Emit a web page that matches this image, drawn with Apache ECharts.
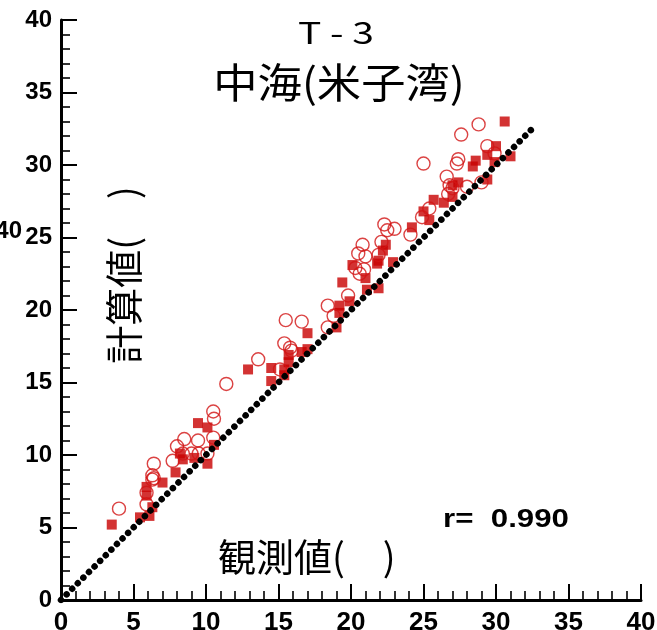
<!DOCTYPE html>
<html>
<head>
<meta charset="utf-8">
<script src="https://cdn.jsdelivr.net/npm/echarts@6/dist/echarts.min.js"></script>
<style>
html,body{margin:0;padding:0;background:#fff;}
#chart{width:657px;height:630px;}
</style>
</head>
<body>
<div id="chart"></div>
<script>
// Data
var squarePoints = [
  [3.5,5.2],[5.45,5.7],[6.1,5.8],[6.3,6.4],[5.9,7.2],[5.9,7.8],[7.0,8.1],[7.9,8.8],
  [8.2,10.1],[8.4,9.7],[9.2,9.8],[10.1,9.4],[10.55,10.7],[9.45,12.2],[10.1,11.9],
  [12.9,15.9],[14.5,16.0],[14.5,15.1],[15.4,15.9],[15.4,15.5],[15.7,16.9],[15.7,16.4],
  [16.6,17.1],[17.0,17.3],[17.0,18.4],[19.0,18.8],[19.2,20.3],[19.2,19.8],[19.9,20.6],
  [19.4,21.9],[21.1,21.4],[21.9,21.5],[21.0,22.2],[20.1,23.1],[21.8,23.2],[21.9,23.4],
  [22.9,23.3],[22.2,24.1],[22.4,24.5],[24.2,25.7],[25.0,26.8],[25.4,26.2],[25.7,27.6],
  [26.4,27.4],[27.0,27.8],[27.0,28.6],[27.4,28.8],[28.4,29.9],[28.6,30.3],[29.4,29.0],
  [29.9,30.2],[29.4,30.7],[31.0,30.6],[30.0,31.3],[30.6,33.0]
];
var circlePoints = [
  [4.0,6.3],[5.9,6.6],[5.9,7.4],[6.3,8.3],[6.3,8.6],[6.4,8.4],[6.4,9.4],[7.7,9.6],
  [8.0,10.6],[8.4,10.1],[8.5,11.1],[9.0,10.1],[9.5,10.1],[10.1,10.1],[9.45,11.0],
  [10.5,11.2],[10.5,13.0],[10.55,12.5],[11.4,14.9],[13.6,16.6],[15.1,15.9],[15.4,17.7],
  [15.8,17.4],[15.9,17.2],[15.5,19.3],[16.6,19.2],[18.4,18.8],[18.8,19.6],[18.4,20.3],
  [19.8,21.0],[20.3,22.9],[20.6,22.5],[20.9,22.8],[20.5,23.9],[21.0,23.7],[21.9,23.8],
  [20.8,24.5],[22.1,24.7],[22.3,25.9],[22.5,25.5],[23.0,25.6],[24.1,25.2],[24.9,26.4],
  [25.4,27.0],[26.7,28.0],[26.8,28.6],[27.0,28.4],[28.0,28.5],[26.6,29.2],[27.4,30.4],
  [27.3,30.1],[25.0,30.1],[29.0,28.8],[29.9,30.8],[29.4,31.3],[27.6,32.1],[28.8,32.8]
];
var oneToOneLine = [[0,0],[32.7,32.7]];
var axisMin = 0, axisMax = 40, axisStep = 5;
var titleLine1 = 'T - 3';
var titleLine2 = '中海(米子湾)';
var yTitle = '計算値(\u3000)';
var xTitle = '観測値(\u3000)';
var rText = 'r=  0.990';

var chart = echarts.init(document.getElementById('chart'), null, {renderer:'canvas'});
var numFont = '"Liberation Sans", Arial, sans-serif';
var cjkFont = '"Noto Sans CJK JP", sans-serif';
function axisCommon(margin, size){
  return {
    type:'value', min:axisMin, max:axisMax, interval:axisStep,
    axisLine:{show:true, onZero:false, lineStyle:{color:'#000', width:3}},
    axisTick:{show:true, inside:true, length:16, lineStyle:{color:'#000', width:2}},
    minorTick:{show:true, splitNumber:5, length:9, lineStyle:{color:'#000', width:1.6}},
    splitLine:{show:false},
    axisLabel:{show:true, color:'#000', fontFamily:numFont, fontWeight:'bold', fontSize:size, margin:margin, showMinLabel:true, showMaxLabel:true}
  };
}
var option = {
  animation:false,
  backgroundColor:'#fff',
  grid:{left:61, top:20, width:580, height:580, containLabel:false, outerBoundsMode:'none'},
  xAxis: axisCommon(10, 26),
  yAxis: axisCommon(9, 24),
  series:[
    {type:'scatter', data:squarePoints, symbol:'rect', symbolSize:10,
     itemStyle:{color:'#C80000'}, emphasis:{disabled:true}, z:2},
    {type:'scatter', data:circlePoints, symbol:'circle', symbolSize:13,
     itemStyle:{color:'rgba(0,0,0,0)', borderColor:'#D21414', borderWidth:1.4}, emphasis:{disabled:true}, z:3},
    {type:'line', data:oneToOneLine, symbol:'none', silent:true, z:4,
     lineStyle:{color:'#000', width:6.5, type:[0.01,7.9], cap:'round'}}
  ],
  graphic:[
    {type:'text', x:336, y:33, scaleX:1.3, style:{text:titleLine1, x:0, y:0, align:'center', verticalAlign:'middle', font:'normal 30px ' + cjkFont, fill:'#000'}},
    {type:'text', x:339, y:82, scaleX:1.08, style:{text:titleLine2, x:0, y:0, align:'center', verticalAlign:'middle', font:'normal 41px ' + cjkFont, fill:'#000'}},
    {type:'text', x:124, y:275, rotation:Math.PI/2, style:{text:yTitle, x:0, y:0, align:'center', verticalAlign:'middle', font:'normal 38px ' + cjkFont, fill:'#000'}},
    {type:'text', style:{text:xTitle, x:218, y:557, align:'left', verticalAlign:'middle', font:'normal 38px ' + cjkFont, fill:'#000'}},
    {type:'text', x:443, y:520, scaleX:1.25, style:{text:rText, x:0, y:0, align:'left', verticalAlign:'middle', font:'bold 25px ' + numFont, fill:'#000'}},
    {type:'text', style:{text:'40', x:22, y:231, align:'right', verticalAlign:'middle', font:'bold 24px ' + numFont, fill:'#000'}}
  ]
};
chart.setOption(option);
</script>
</body>
</html>
